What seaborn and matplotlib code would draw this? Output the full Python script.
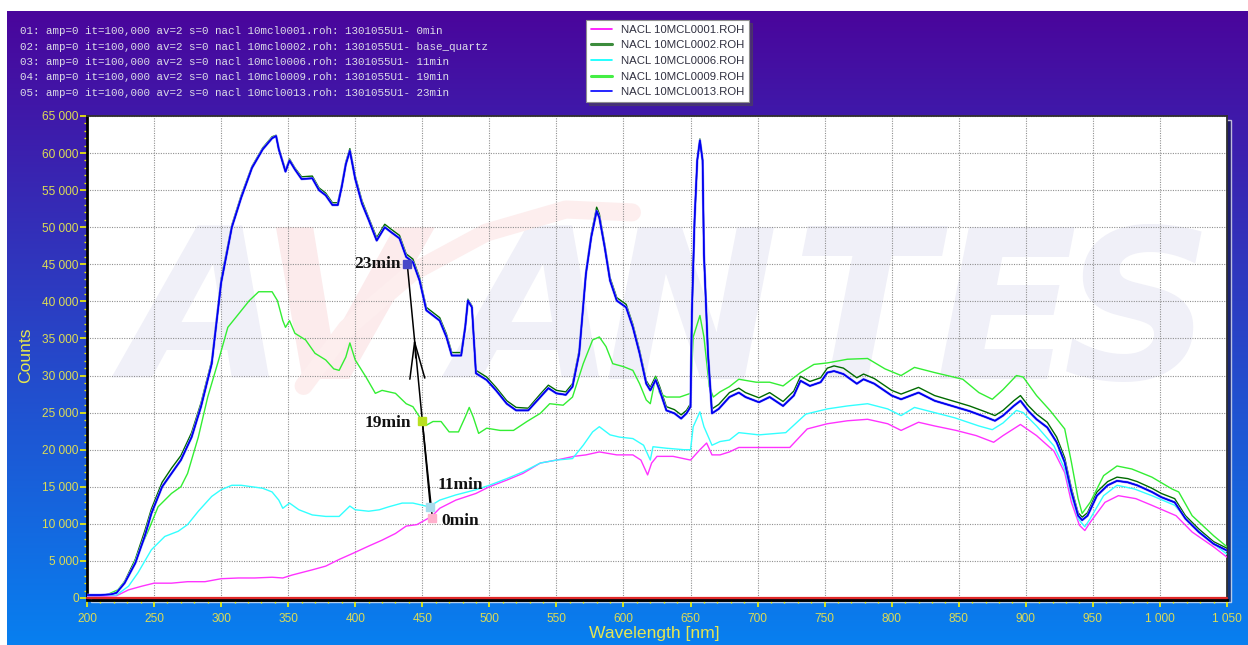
import matplotlib
matplotlib.use("Agg")
import numpy as np
import pandas as pd
import matplotlib.pyplot as plt
import matplotlib.patheffects as pe
from matplotlib.lines import Line2D
from matplotlib.patches import Rectangle
from matplotlib.ticker import FuncFormatter, MultipleLocator
import seaborn as sns

# ---- data (wavelength in nm, counts) ----
wl_main = [200, 210, 218, 222, 228, 236, 243, 248, 256, 263, 270, 278, 285, 293, 300, 308, 315, 323, 331, 338,
           341, 343, 348, 351, 355, 360, 368, 373, 378, 383, 387, 390, 393, 396, 400, 405, 410, 416, 422, 427,
           433, 438, 443, 448, 453, 458, 463, 468, 472, 479, 482, 484, 487, 490, 498, 505, 513, 520, 529, 538,
           544, 550, 557, 562, 567, 572, 576, 580, 582, 586, 590, 595, 602, 607, 612, 617, 620, 624, 627, 632,
           638, 643, 647, 650, 651, 653, 655, 657, 659, 660, 663, 666, 671, 679, 686, 691, 701, 709, 719, 727,
           732, 739, 747, 752, 757, 764, 774, 779, 787, 800, 807, 820, 832, 845, 858, 870, 877, 883, 891, 896,
           902, 908, 916, 923, 929, 934, 939, 942, 946, 953, 961, 968, 976, 983, 994, 1001, 1011, 1019, 1029, 1040,
           1050]
cnt_0013 = [400, 400, 500, 700, 2000, 4700, 8300, 11400, 15000, 16800, 18600, 21700, 25800, 31600, 42500, 50000, 54000, 58000, 60500, 62000,
            62300, 60500, 57500, 59000, 57800, 56500, 56600, 55000, 54300, 53000, 53000, 55500, 58500, 60300, 56500, 53200, 51000, 48200, 50000, 49300,
            48500, 46000, 45300, 42800, 38800, 38100, 37400, 35200, 32700, 32700, 36500, 40100, 39200, 30300, 29400, 28000, 26200, 25300, 25300, 27100,
            28300, 27600, 27400, 28500, 33000, 43700, 48700, 52200, 51300, 47300, 42800, 40100, 39200, 36500, 33000, 28900, 28000, 29400, 28000, 25300,
            24900, 24200, 24900, 25800, 38300, 50900, 59000, 61700, 59000, 46400, 33000, 24900, 25500, 27100, 27700, 27100, 26400, 27100, 25900, 27300,
            29300, 28600, 29100, 30400, 30600, 30200, 28900, 29500, 28900, 27300, 26800, 27700, 26600, 25900, 25200, 24400, 23900, 24600, 25900, 26600,
            25200, 24100, 23000, 21000, 18300, 14300, 11100, 10500, 11100, 13800, 15200, 15800, 15600, 15200, 14300, 13600, 12900, 10700, 8900, 7300,
            6400]
cnt_0002 = [400, 400, 500, 700, 2200, 5200, 9000, 12000, 15600, 17500, 19200, 22300, 26300, 32000, 43000, 50300, 54300, 58200, 60700, 62200,
            62400, 60700, 57700, 59200, 58000, 56800, 56900, 55300, 54600, 53300, 53300, 55800, 58800, 60600, 56900, 53600, 51300, 48600, 50400, 49700,
            48900, 46400, 45700, 43200, 39200, 38500, 37800, 35600, 33100, 33100, 36800, 40300, 39400, 30700, 29800, 28400, 26600, 25700, 25600, 27500,
            28700, 28000, 27800, 28900, 33400, 44000, 49100, 52700, 51800, 47700, 43200, 40500, 39600, 36900, 33400, 29300, 28400, 29900, 28500, 25800,
            25400, 24700, 25300, 26200, 38500, 51000, 59100, 61900, 59200, 46600, 33300, 25500, 26100, 27700, 28300, 27700, 27000, 27700, 26500, 27900,
            29900, 29200, 29700, 31000, 31300, 31000, 29700, 30200, 29600, 28000, 27500, 28400, 27300, 26600, 25900, 25100, 24600, 25300, 26600, 27300,
            25900, 24800, 23700, 21700, 18900, 14800, 11500, 10900, 11500, 14300, 15700, 16300, 16100, 15700, 14800, 14100, 13400, 11100, 9300, 7600,
            6700]

wl_0009 = [200, 215, 223, 231, 238, 246, 253, 263, 270, 275, 283, 290, 298, 305, 313, 321, 328, 338, 342, 346,
           348, 351, 355, 363, 370, 378, 384, 388, 393, 396, 400, 408, 415, 420, 430, 438, 443, 448, 453, 458,
           464, 470, 477, 482, 485, 488, 492, 498, 508, 518, 528, 538, 545, 555, 562, 570, 577, 582, 587, 592,
           600, 607, 612, 617, 620, 624, 627, 632, 642, 650, 652, 657, 660, 664, 667, 672, 679, 686, 699, 709,
           719, 732, 742, 752, 767, 782, 795, 807, 817, 832, 853, 865, 875, 883, 893, 898, 908, 918, 929, 934,
           939, 942, 948, 958, 968, 979, 994, 1009, 1014, 1024, 1040, 1050]
cnt_0009 = [400, 450, 1100, 2900, 6000, 9200, 12300, 14100, 15000, 16800, 21700, 27100, 32000, 36500, 38300, 40100, 41300, 41300, 40100, 37400,
            36500, 37400, 35700, 34800, 33000, 32100, 30900, 30700, 32500, 34400, 32100, 29800, 27600, 28000, 27600, 26200, 25800, 24400, 23300, 23800,
            23800, 22400, 22400, 24400, 25700, 24400, 22200, 22900, 22600, 22600, 23800, 24900, 26200, 26000, 27100, 31600, 34800, 35200, 33900, 31600,
            31200, 30700, 28900, 26700, 26200, 29800, 27600, 27100, 27100, 27600, 35200, 38100, 35200, 28500, 27100, 27800, 28500, 29500, 29100, 29100,
            28600, 30400, 31500, 31700, 32200, 32300, 30900, 30000, 31100, 30400, 29500, 27700, 26800, 28100, 30000, 29800, 27300, 25300, 22800, 18300,
            13400, 11400, 12900, 16500, 17800, 17400, 16300, 14700, 14300, 11100, 8400, 6900]

wl_0006 = [200, 222, 231, 238, 248, 258, 268, 275, 283, 293, 300, 308, 315, 323, 331, 338, 343, 346, 351, 358,
           368, 378, 388, 396, 400, 410, 418, 425, 435, 443, 455, 463, 475, 490, 500, 513, 525, 538, 550, 562,
           570, 577, 582, 590, 597, 607, 615, 620, 622, 632, 645, 650, 652, 657, 660, 666, 672, 679, 686, 701,
           721, 736, 752, 767, 782, 797, 807, 817, 832, 847, 865, 875, 883, 893, 898, 908, 921, 929, 934, 939,
           944, 948, 958, 968, 981, 994, 1011, 1024, 1040, 1050]
cnt_0006 = [300, 400, 1600, 3400, 6500, 8300, 9000, 9900, 11700, 13700, 14600, 15200, 15200, 15000, 14800, 14300, 13200, 12100, 12800, 11900,
            11200, 11000, 11000, 12400, 11900, 11700, 11900, 12300, 12800, 12800, 12300, 13200, 13900, 14600, 15200, 16100, 17000, 18200, 18600, 18800,
            20600, 22400, 23100, 22000, 21700, 21500, 20600, 18600, 20400, 20200, 20000, 20000, 23100, 25100, 23100, 20600, 21100, 21300, 22300, 22000,
            22300, 24800, 25500, 25900, 26200, 25500, 24600, 25700, 25000, 24300, 23200, 22700, 23600, 25300, 25000, 23200, 20500, 17400, 13800, 10700,
            9600, 10700, 13800, 15200, 14700, 13800, 12500, 9800, 7300, 5900]

wl_0001 = [200, 222, 231, 241, 250, 263, 275, 288, 300, 313, 325, 338, 346, 353, 368, 378, 388, 398, 410, 420,
           430, 438, 446, 450, 457, 463, 475, 490, 500, 513, 525, 538, 550, 563, 572, 582, 595, 607, 613, 618,
           621, 625, 637, 650, 657, 662, 666, 672, 679, 686, 699, 724, 737, 752, 767, 782, 797, 807, 820, 832,
           848, 863, 876, 883, 896, 908, 921, 929, 934, 940, 944, 948, 959, 969, 982, 994, 1012, 1024, 1040, 1050]
cnt_0001 = [200, 300, 1100, 1600, 2000, 2000, 2200, 2200, 2600, 2700, 2700, 2800, 2700, 3100, 3800, 4300, 5200, 6000, 7000, 7800,
            8700, 9700, 9900, 10300, 11000, 12100, 13200, 14100, 15000, 15900, 16800, 18200, 18600, 19100, 19300, 19700, 19300, 19300, 18600, 16600,
            18200, 19100, 19100, 18600, 20000, 20900, 19300, 19300, 19700, 20300, 20300, 20300, 22800, 23500, 23900, 24100, 23500, 22600, 23700, 23200,
            22600, 21900, 21000, 21900, 23400, 21900, 19800, 16900, 12900, 9800, 9100, 10200, 12900, 13800, 13400, 12500, 11100, 8900, 6900, 5500]

legend_names = ["NACL 10MCL0001.ROH", "NACL 10MCL0002.ROH", "NACL 10MCL0006.ROH",
                "NACL 10MCL0009.ROH", "NACL 10MCL0013.ROH"]
header_lines = [
    "01: amp=0 it=100,000 av=2 s=0 nacl 10mcl0001.roh: 1301055U1- 0min",
    "02: amp=0 it=100,000 av=2 s=0 nacl 10mcl0002.roh: 1301055U1- base_quartz",
    "03: amp=0 it=100,000 av=2 s=0 nacl 10mcl0006.roh: 1301055U1- 11min",
    "04: amp=0 it=100,000 av=2 s=0 nacl 10mcl0009.roh: 1301055U1- 19min",
    "05: amp=0 it=100,000 av=2 s=0 nacl 10mcl0013.roh: 1301055U1- 23min",
]

# time markers: label, wavelength, counts
mark_labels = ["23min", "19min", "11min", "0min"]
mark_wl = [438.8, 450.0, 456.0, 457.5]
mark_cnt = [45000, 23900, 12300, 10800]

sns.set_theme(style="white")
plt.rcParams["font.family"] = ["Liberation Sans", "DejaVu Sans"]

W, H = 1248, 645
fig = plt.figure(figsize=(W / 100, H / 100), dpi=100)
fig.patch.set_facecolor("white")

# gradient panel behind everything
bg = fig.add_axes([7 / W, 0, 1 - 7 / W, 1 - 11 / H], zorder=0)
t = np.linspace(0, 1, 256)[:, None, None]
c_top = np.array([0.29, 0.02, 0.61])
c_bot = np.array([0.03, 0.50, 0.94])
bg.imshow(c_top + (c_bot - c_top) * t, aspect="auto", extent=[0, 1, 0, 1])
bg.axis("off")

# plot shadow
fig.patches.append(Rectangle((91 / W, 43 / H), 1140 / W, 482 / H, transform=fig.transFigure,
                             facecolor="#141850", alpha=0.7, zorder=1))

ax = fig.add_axes([87 / W, 47 / H, 1140 / W, 482 / H], zorder=2)
ax.set_facecolor("white")

# watermark logo
letters = ["A", "V", "A", "N", "T", "E", "S"]
letter_x = [0.104, 0.222, 0.393, 0.530, 0.680, 0.806, 0.922]
for ch, lx in zip(letters, letter_x):
    ax.text(lx, 0.575, ch, transform=ax.transAxes, ha="center", va="center",
            fontsize=150, fontweight="bold", style="italic",
            color="#fcebec" if ch == "V" else "#f0f0f8", zorder=0.2, family="DejaVu Sans")
sw_x = [0.190, 0.228, 0.285, 0.350, 0.420, 0.478]
sw_y = [0.440, 0.560, 0.675, 0.758, 0.806, 0.800]
ax.plot(sw_x, sw_y, transform=ax.transAxes, color="#fdeeee", lw=13,
        solid_capstyle="round", zorder=0.3)

series = [
    ("NACL 10MCL0001.ROH", wl_0001, cnt_0001, "#ff33ff"),
    ("NACL 10MCL0002.ROH", wl_main, cnt_0002, "#006a00"),
    ("NACL 10MCL0006.ROH", wl_0006, cnt_0006, "#33ffff"),
    ("NACL 10MCL0009.ROH", wl_0009, cnt_0009, "#33ee33"),
    ("NACL 10MCL0013.ROH", wl_main, cnt_0013, "#0000ee"),
]
for name, wl, cnt, col in series:
    df = pd.DataFrame({"wavelength": wl, "counts": cnt})
    sns.lineplot(data=df, x="wavelength", y="counts", color=col, linewidth=1.0,
                 estimator=None, sort=False, ax=ax, zorder=3)
ax.lines[-1].set_path_effects([pe.withStroke(linewidth=1.9, foreground="#9a9aff"), pe.Normal()])

# time annotation
ax.plot([mark_wl[3], mark_wl[1], mark_wl[0]], [mark_cnt[3], mark_cnt[1], mark_cnt[0]],
        color="black", lw=1.1, zorder=4)
ax.plot([mark_wl[2], mark_wl[1]], [mark_cnt[2], mark_cnt[1]], color="black", lw=1.1, zorder=4)
ax.annotate("", xy=(443.9, 35400), xytext=(445.3, 32000),
            arrowprops=dict(arrowstyle="->,head_length=2.2,head_width=0.45", color="black", lw=1.1),
            zorder=4)
mark_colors = ["#4848c8", "#b8e020", "#a8dcec", "#ffb0cc"]
offsets = [(-5, 0, "right"), (-8, -1.5, "right"), (5, 16, "left"), (6.5, -2, "left")]
for lab, x, y, mc, (dx, dy, ha) in zip(mark_labels, mark_wl, mark_cnt, mark_colors, offsets):
    ax.plot([x], [y], marker="s", ms=6, color=mc, zorder=5)
    ax.annotate(lab, xy=(x, y), xytext=(dx, dy), textcoords="offset points", ha=ha, va="center",
                fontsize=12.5, fontweight="bold", family="Liberation Serif", color="#111111", zorder=6)

# axes styling
ax.set_xlim(200, 1050)
ax.set_ylim(0, 65000)
ax.xaxis.set_major_locator(MultipleLocator(50))
ax.xaxis.set_minor_locator(MultipleLocator(10))
ax.yaxis.set_major_locator(MultipleLocator(5000))
ax.yaxis.set_minor_locator(MultipleLocator(1000))
fmt = FuncFormatter(lambda v, p: f"{int(round(v)):,}".replace(",", " "))
ax.xaxis.set_major_formatter(fmt)
ax.yaxis.set_major_formatter(fmt)
ax.tick_params(axis="both", which="both", color="#f4f400", labelcolor="#dcdc55",
               labelsize=8.6, direction="out", left=True, bottom=True)
ax.tick_params(which="major", length=5, width=1.2)
ax.tick_params(which="minor", length=2.5, width=1)
ax.tick_params(axis="x", which="major", pad=4)
ax.tick_params(axis="y", which="major", pad=1)
ax.grid(True, which="major", color="#909090", lw=0.8, ls=(0, (1, 1.2)))
ax.set_axisbelow(True)
ax.axhline(0, color="#e02828", lw=1.6, zorder=6, clip_on=False)
for side in ["left", "bottom"]:
    ax.spines[side].set_color("black")
    ax.spines[side].set_linewidth(2)
ax.spines["bottom"].set_position(("outward", 1.5))
for side in ["top", "right"]:
    ax.spines[side].set_color("#303030")
    ax.spines[side].set_linewidth(1.3)

ax.set_xlabel("Wavelength [nm]", color="#e6e650", fontsize=12.6)
ax.set_ylabel("Counts", color="#e6e650", fontsize=12.6)
ax.xaxis.set_label_coords(0.498, -0.058)
ax.yaxis.set_label_coords(-0.047, 0.504)

# header
for i, line in enumerate(header_lines):
    fig.text(20 / W, 1 - (31 + 15.5 * i) / H, line, family="Liberation Mono", fontsize=7.8,
             color="#dcdce8", va="center", ha="left", zorder=3)

# legend
handles = [Line2D([], [], color=c, lw=w) for c, w in
           zip(["#ff00ff", "#3c8c3c", "#00ffff", "#44ee44", "#0000ff"], [1.2, 2.2, 1.2, 2.2, 1.2])]
leg = fig.legend(handles, legend_names, loc="upper left", bbox_to_anchor=(586 / W, 1 - 20 / H),
                 fontsize=8.2, frameon=True, fancybox=False, shadow=True, borderpad=0.4,
                 handlelength=1.9, handletextpad=0.8, labelspacing=0.5, borderaxespad=0,
                 labelcolor="#303040")
leg.get_frame().set_edgecolor("#909090")
leg.get_frame().set_linewidth(0.8)

fig.savefig("out.png", dpi=100)
